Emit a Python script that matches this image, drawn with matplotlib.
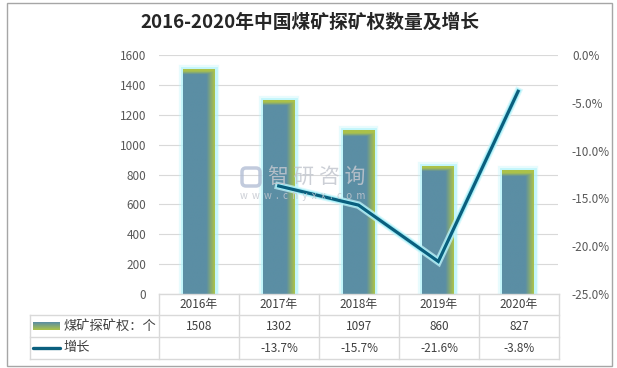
import numpy as np
import matplotlib
matplotlib.use('Agg')
import matplotlib.pyplot as plt
import matplotlib.patches as patches
import matplotlib.patheffects as pe
from matplotlib.colors import to_rgb
from matplotlib.ticker import FuncFormatter

plt.rcParams['font.family'] = ['Noto Sans CJK SC', 'DejaVu Sans']

years = ['2016年', '2017年', '2018年', '2019年', '2020年']
counts = [1508, 1302, 1097, 860, 827]
growth = [None, -13.7, -15.7, -21.6, -3.8]
bar_name = '煤矿探矿权：个'
line_name = '增长'
title = '2016-2020年中国煤矿探矿权数量及增长'

W, H = 617, 368
fig = plt.figure(figsize=(W / 100, H / 100), dpi=100)

# pixel helper for layout
def box(x0, y0, x1, y1):
    return [x0 / W, 1 - y1 / H, (x1 - x0) / W, (y1 - y0) / H]

ax = fig.add_axes(box(159, 55, 558, 294))
ax.set_zorder(2)
ax2 = ax.twinx()
ax2.set_zorder(3)
ax.patch.set_visible(False)
ax2.patch.set_visible(False)

x = np.arange(len(years))
blue = np.array(to_rgb('#5b8ea4'))
olive = np.array(to_rgb('#abc24a'))
bw = 0.4

# glow + gradient bars
for glow_lw, a in [(6, 0.3), (3.5, 0.7)]:
    ax.bar(x, counts, width=bw, color='none', edgecolor='#b4f4fb',
           linewidth=glow_lw, alpha=a, zorder=1)
bars = ax.bar(x, counts, width=bw, color='#5b8ea4', linewidth=0, zorder=2)
for b, h in zip(bars, counts):
    nx, ny = 60, 300
    u = np.linspace(0, 1, nx)
    yy = np.linspace(0, h, ny)
    fx = np.clip((u - 0.74) / 0.26, 0, 1)
    fy = np.clip((yy - (h - 40)) / 22, 0, 1)
    f = np.maximum(fx[None, :], fy[:, None])
    img = blue[None, None, :] * (1 - f[..., None]) + olive[None, None, :] * f[..., None]
    im = ax.imshow(img, origin='lower', aspect='auto', zorder=3,
                   extent=(b.get_x(), b.get_x() + bw, 0, h), interpolation='bilinear')
    im.set_clip_path(b)

gx = [xi for xi, g in zip(x, growth) if g is not None]
gy = [g for g in growth if g is not None]
ax2.plot(gx, gy, color='#0a5f7e', linewidth=2.3, solid_joinstyle='miter', zorder=4,
         path_effects=[pe.Stroke(linewidth=5.5, foreground='#c9f6fb', alpha=0.7),
                       pe.Stroke(linewidth=3.8, foreground='#a4eff8'), pe.Normal()])

ax.set_xlim(-0.5, len(years) - 0.5)
ax.set_ylim(0, 1600)
ax.set_yticks(np.arange(0, 1601, 200))
ax2.set_ylim(-25, 0)
ax2.set_yticks(np.arange(-25, 0.1, 5))
ax2.yaxis.set_major_formatter(FuncFormatter(lambda v, p: f'{v:.1f}%'))
ax.set_xticks([])
ax.grid(axis='y', color='#d9d9d9', linewidth=0.8, zorder=0)
ax.set_axisbelow(True)
for a_ in (ax, ax2):
    for s in a_.spines.values():
        s.set_visible(False)
    a_.tick_params(length=0, labelsize=8.5, labelcolor='#595959')
ax.tick_params(axis='y', pad=9)
ax2.tick_params(axis='y', pad=10)

# overlay for frame, table and title
ov = fig.add_axes([0, 0, 1, 1])
ov.set_xlim(0, W)
ov.set_ylim(H, 0)
ov.axis('off')
ov.set_zorder(5)
ov.add_patch(patches.Rectangle((7, 3), 605, 363, fill=False, edgecolor='#a6a6a6', linewidth=1))
ov.text(310, 22, title, ha='center', va='center', fontsize=13.5, fontweight='bold', color='#262626')

# watermark
ov.text(268, 177, '智 研 咨 询', ha='left', va='center', fontsize=15, color='#c3c7cf', alpha=0.85)
ov.text(240, 196, 'w  w  w  .  c  h  y  x  x  .  c  o  m', ha='left', va='center',
        fontsize=7, color='#c3c7cf', alpha=0.85)
ov.add_patch(patches.FancyBboxPatch((242, 168), 18, 18, boxstyle='round,pad=0,rounding_size=4',
                                    fill=False, edgecolor='#b3bed5', linewidth=2.5, alpha=0.8))

# data table
gc = '#d9d9d9'
cols = [159 + 80 * i for i in range(len(years) + 1)]
rows = [294, 315, 337, 359]
ov.plot([cols[0], cols[-1]], [rows[0], rows[0]], color=gc, lw=1)
for r in rows[1:]:
    ov.plot([30, cols[-1]], [r, r], color=gc, lw=1)
for c in cols:
    ov.plot([c, c], [rows[0], rows[-1]], color=gc, lw=1)
ov.plot([30, 30], [rows[1], rows[-1]], color=gc, lw=1)

tc = '#404040'
for i, (yr, cnt, g) in enumerate(zip(years, counts, growth)):
    cx = (cols[i] + cols[i + 1]) / 2
    ov.text(cx, (rows[0] + rows[1]) / 2, yr, ha='center', va='center', fontsize=8.5, color=tc)
    ov.text(cx, (rows[1] + rows[2]) / 2, str(cnt), ha='center', va='center', fontsize=8.5, color=tc)
    if g is not None:
        ov.text(cx, (rows[2] + rows[3]) / 2, f'{g:.1f}%', ha='center', va='center', fontsize=8.5, color=tc)

# legend keys
sw = np.linspace(0, 1, 20)
swatch = blue[None, :] * (1 - sw[:, None]) + olive[None, :] * sw[:, None]
ov.imshow(swatch[:, None, :], extent=(33, 60, 330, 322), aspect='auto', zorder=6)
ov.set_xlim(0, W)
ov.set_ylim(H, 0)
ov.text(63, (rows[1] + rows[2]) / 2, bar_name, ha='left', va='center', fontsize=9.5, color=tc)
ov.plot([33, 60], [348, 348], color='#0a5f7e', lw=2.4, solid_capstyle='round')
ov.text(63, (rows[2] + rows[3]) / 2, line_name, ha='left', va='center', fontsize=9.5, color=tc)

fig.savefig('out.png', dpi=100)
